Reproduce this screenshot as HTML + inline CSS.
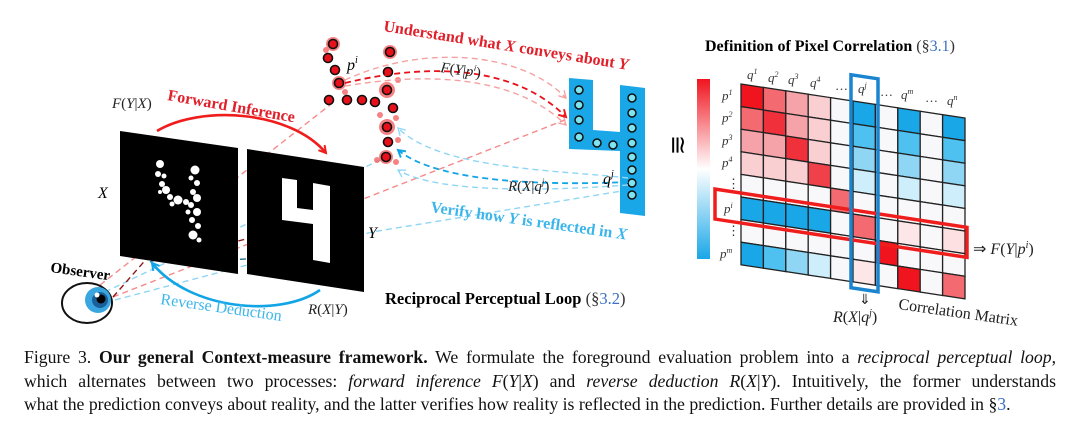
<!DOCTYPE html>
<html><head><meta charset="utf-8"><style>
html,body{margin:0;padding:0;background:#fff;}
body{width:1080px;height:428px;position:relative;overflow:hidden;}
svg{position:absolute;left:0;top:0;}
.cap{position:absolute;left:24px;top:346px;width:1032px;font-family:"Liberation Serif",serif;font-size:17.7px;line-height:23.5px;color:#111;}
.cap div{text-align:justify;text-align-last:justify;white-space:nowrap;}
.cap div.last{text-align-last:left;}
</style></head><body>
<svg width="1080" height="345" viewBox="0 0 1080 345" font-family="Liberation Serif, serif">
<defs>
<linearGradient id="cb" x1="0" y1="0" x2="0" y2="1">
<stop offset="0" stop-color="#f0141e"/><stop offset="0.5" stop-color="#ffffff"/><stop offset="1" stop-color="#1aa7e8"/></linearGradient>
<marker id="ar" markerWidth="10" markerHeight="10" refX="8" refY="5" orient="auto" markerUnits="userSpaceOnUse"><path d="M1,1 L8,5 L1,9" fill="none" stroke="#f01d1d" stroke-width="2"/></marker>
<marker id="ab" markerWidth="10" markerHeight="10" refX="8" refY="5" orient="auto" markerUnits="userSpaceOnUse"><path d="M1,1 L8,5 L1,9" fill="none" stroke="#12a5e6" stroke-width="2"/></marker>
<marker id="arp" markerWidth="10" markerHeight="10" refX="8" refY="5" orient="auto" markerUnits="userSpaceOnUse"><path d="M1,1 L8,5 L1,9" fill="none" stroke="#f5a0a0" stroke-width="1.3"/></marker>
<marker id="abp" markerWidth="10" markerHeight="10" refX="8" refY="5" orient="auto" markerUnits="userSpaceOnUse"><path d="M1,1 L8,5 L1,9" fill="none" stroke="#8fd6f5" stroke-width="1.3"/></marker>
</defs>

<g fill="none" stroke-width="1.4" stroke-dasharray="6,4">
<path d="M100,285 L330,105" stroke="#f58a8a"/>
<path d="M113,297 L570,118" stroke="#f58a8a"/>
<path d="M115,300 L372,232 L628,190" stroke="#8fd6f5"/>
<path d="M105,292 L380,160" stroke="#8fd6f5"/>
<path d="M113,297 L185,215" stroke="#8b1a1a"/>
<path d="M150,262 L188,247" stroke="#1f6f8f"/>
<path d="M180,255 L300,226" stroke="#8b1a1a"/>
<path d="M200,262 L305,255" stroke="#1f6f8f"/>
</g>
<polygon points="120,131 238,148 238,274 120,256" fill="#000"/>
<polygon points="247,149 364,167 364,292 247,274" fill="#000"/>
<g fill="#fff">
<circle cx="160" cy="164" r="4"/><circle cx="158" cy="174" r="3"/><circle cx="164" cy="176" r="2.5"/><circle cx="162" cy="184" r="3"/><circle cx="166" cy="190" r="4"/><circle cx="160" cy="192" r="2"/><circle cx="170" cy="197" r="3"/><circle cx="178" cy="200" r="4.5"/><circle cx="186" cy="202" r="3"/><circle cx="172" cy="204" r="2.5"/>
<circle cx="195" cy="170" r="4.5"/><circle cx="191" cy="178" r="2.5"/><circle cx="197" cy="183" r="3"/><circle cx="193" cy="192" r="3"/><circle cx="197" cy="198" r="4"/><circle cx="191" cy="205" r="3"/><circle cx="197" cy="212" r="4"/><circle cx="192" cy="220" r="3"/><circle cx="198" cy="226" r="3"/><circle cx="193" cy="235" r="4.5"/><circle cx="199" cy="240" r="2.5"/><circle cx="188" cy="212" r="2.5"/>
</g>
<polygon points="282,178 297,180 297,208 313,210 313,183 330,186 330,263 313,260 313,224 282,220" fill="#fff"/>
<path d="M157,131 C200,105 290,110 326,153" fill="none" stroke="#f01d1d" stroke-width="2.6" marker-end="url(#ar)"/>
<path d="M320,290 C280,318 190,310 152,263" fill="none" stroke="#12a5e6" stroke-width="2.6" marker-end="url(#ab)"/>

<g fill="#f25a5a" opacity="0.75">
<circle cx="333" cy="44" r="7"/><circle cx="390" cy="52" r="7"/><circle cx="387" cy="90" r="8"/><circle cx="387" cy="127" r="8"/><circle cx="386" cy="157" r="7"/><circle cx="339" cy="83" r="7"/><circle cx="380" cy="115" r="3"/><circle cx="396" cy="118" r="3"/><circle cx="326" cy="50" r="3"/><circle cx="398" cy="80" r="3"/><circle cx="377" cy="160" r="3"/><circle cx="396" cy="162" r="3"/><circle cx="345" cy="92" r="3"/><circle cx="398" cy="140" r="3"/>
</g>
<g fill="#e8101a" stroke="#111" stroke-width="1.6">
<circle cx="333" cy="44" r="4.5"/><circle cx="328" cy="58" r="4.5"/><circle cx="335" cy="70" r="4.5"/><circle cx="339" cy="83" r="4.5"/><circle cx="329" cy="100" r="4.5"/><circle cx="347" cy="100" r="4.5"/><circle cx="362" cy="100" r="4.5"/><circle cx="375" cy="102" r="4.5"/>
<circle cx="390" cy="52" r="4.5"/><circle cx="388" cy="72" r="4.5"/><circle cx="387" cy="90" r="4.5"/><circle cx="393" cy="108" r="4.5"/><circle cx="387" cy="127" r="4.5"/><circle cx="388" cy="142" r="4.5"/><circle cx="386" cy="157" r="4.5"/>
</g>
<polygon points="569,78 593,80 593,130 620,132 620,85 645,88 645,216 620,213 620,151 569,149" fill="#1aa7e8"/>
<g fill="#7ee4ef" stroke="#111" stroke-width="1.5">
<circle cx="579" cy="90" r="4"/><circle cx="579" cy="105" r="4"/><circle cx="579" cy="120" r="4"/><circle cx="579" cy="137" r="4"/><circle cx="597" cy="143" r="4"/><circle cx="613" cy="145" r="4"/>
<circle cx="632" cy="98" r="4"/><circle cx="632" cy="113" r="4"/><circle cx="632" cy="128" r="4"/><circle cx="632" cy="143" r="4"/><circle cx="632" cy="157" r="4"/><circle cx="632" cy="170" r="4"/><circle cx="632" cy="183" r="4"/><circle cx="632" cy="195" r="4"/>
</g>
<g fill="none" stroke-width="1.4" stroke-dasharray="6,4">
<path d="M345,80 C420,45 520,50 566,98" stroke="#f5a0a0" marker-end="url(#arp)"/>
<path d="M345,86 C440,70 520,80 566,125" stroke="#f5a0a0" marker-end="url(#arp)"/>
<path d="M345,83 C440,60 520,70 566,117" stroke="#e8101a" stroke-width="1.8" marker-end="url(#ar)"/>
<path d="M628,178 C560,170 440,170 398,128" stroke="#8fd6f5" marker-end="url(#abp)"/>
<path d="M628,185 C560,190 440,195 398,170" stroke="#8fd6f5" marker-end="url(#abp)"/>
<path d="M628,182 C560,185 440,185 398,150" stroke="#12a5e6" stroke-width="1.8" marker-end="url(#ab)"/>
</g>

<text x="383" y="31" fill="#e0202a" font-weight="bold" font-size="16" transform="rotate(9 383 31)">Understand what <tspan font-style="italic">X</tspan> conveys about <tspan font-style="italic">Y</tspan></text>
<text x="347" y="70" font-style="italic" font-size="16">p<tspan font-size="10" dy="-7">i</tspan></text>
<text x="440" y="72" font-size="15" transform="rotate(8 440 72)" fill="#222"><tspan font-style="italic">F</tspan>(<tspan font-style="italic">Y</tspan>|<tspan font-style="italic">p<tspan font-size="9" dy="-6">i</tspan></tspan><tspan dy="6">)</tspan></text>
<text x="112" y="108" font-size="15" fill="#222"><tspan font-style="italic">F</tspan>(<tspan font-style="italic">Y</tspan>|<tspan font-style="italic">X</tspan>)</text>
<text x="167" y="100" fill="#e0202a" font-weight="bold" font-size="16" transform="rotate(10 167 100)">Forward Inference</text>
<text x="98" y="198" font-style="italic" font-size="16">X</text>
<text x="368" y="238" font-style="italic" font-size="16">Y</text>
<text x="508" y="191" font-size="15" fill="#222"><tspan font-style="italic">R</tspan>(<tspan font-style="italic">X</tspan>|<tspan font-style="italic">q<tspan font-size="9" dy="-6">j</tspan></tspan><tspan dy="6">)</tspan></text>
<text x="603" y="184" font-style="italic" font-size="16">q<tspan font-size="10" dy="-7">j</tspan></text>
<text x="430" y="212" fill="#3cb6ea" font-weight="bold" font-size="16" transform="rotate(8 430 212)">Verify how <tspan font-style="italic">Y</tspan> is reflected in <tspan font-style="italic">X</tspan></text>
<text x="50" y="272" font-weight="bold" font-size="15" transform="rotate(8 50 272)">Observer</text>
<text x="160" y="304" fill="#3cb6ea" font-size="16" transform="rotate(8 160 304)">Reverse Deduction</text>
<text x="308" y="314" font-size="15" fill="#222"><tspan font-style="italic">R</tspan>(<tspan font-style="italic">X</tspan>|<tspan font-style="italic">Y</tspan>)</text>
<text x="385" y="304" font-weight="bold" font-size="16.5">Reciprocal Perceptual Loop <tspan font-weight="normal" fill="#333">(§</tspan><tspan font-weight="normal" fill="#3a6fc4">3.2</tspan><tspan font-weight="normal" fill="#333">)</tspan></text>

<ellipse cx="87" cy="303" rx="25" ry="20" fill="#fff" stroke="#111" stroke-width="2"/>
<circle cx="98" cy="300" r="13" fill="#3aa6e0"/>
<circle cx="100" cy="300" r="8" fill="#1a5f9a"/>
<circle cx="101" cy="299" r="4.5" fill="#000"/>
<circle cx="97" cy="295" r="2.5" fill="#fff"/>

<text x="670" y="145" font-size="24" transform="rotate(90 670 145)" text-anchor="middle">≅</text>

<text x="705" y="51" font-weight="bold" font-size="16">Definition of Pixel Correlation <tspan font-weight="normal" fill="#333">(§</tspan><tspan font-weight="normal" fill="#3a6fc4">3.1</tspan><tspan font-weight="normal" fill="#333">)</tspan></text>
<rect x="697" y="79" width="13" height="180" fill="url(#cb)"/>
<g transform="matrix(1,0.152,0,1,741,84)" stroke="#222" stroke-width="1.3">
<rect x="0" y="0" width="22.4" height="22.6" fill="#f0141e"/><rect x="22.4" y="0" width="22.4" height="22.6" fill="#f36a70"/><rect x="44.8" y="0" width="22.4" height="22.6" fill="#f5a3a8"/><rect x="67.2" y="0" width="22.4" height="22.6" fill="#f9cfd2"/><rect x="89.6" y="0" width="22.4" height="22.6" fill="#f8f8fa"/><rect x="112" y="0" width="22.4" height="22.6" fill="#1aa7e8"/><rect x="134.4" y="0" width="22.4" height="22.6" fill="#f8f8fa"/><rect x="156.8" y="0" width="22.4" height="22.6" fill="#1aa7e8"/><rect x="179.2" y="0" width="22.4" height="22.6" fill="#f8f8fa"/><rect x="201.6" y="0" width="22.4" height="22.6" fill="#1aa7e8"/>
<rect x="0" y="22.6" width="22.4" height="22.6" fill="#f36a70"/><rect x="22.4" y="22.6" width="22.4" height="22.6" fill="#f0303a"/><rect x="44.8" y="22.6" width="22.4" height="22.6" fill="#f5a3a8"/><rect x="67.2" y="22.6" width="22.4" height="22.6" fill="#f9cfd2"/><rect x="89.6" y="22.6" width="22.4" height="22.6" fill="#f8f8fa"/><rect x="112" y="22.6" width="22.4" height="22.6" fill="#4ec1f0"/><rect x="134.4" y="22.6" width="22.4" height="22.6" fill="#f8f8fa"/><rect x="156.8" y="22.6" width="22.4" height="22.6" fill="#4ec1f0"/><rect x="179.2" y="22.6" width="22.4" height="22.6" fill="#f8f8fa"/><rect x="201.6" y="22.6" width="22.4" height="22.6" fill="#4ec1f0"/>
<rect x="0" y="45.2" width="22.4" height="22.6" fill="#f5a3a8"/><rect x="22.4" y="45.2" width="22.4" height="22.6" fill="#f5a3a8"/><rect x="44.8" y="45.2" width="22.4" height="22.6" fill="#f0303a"/><rect x="67.2" y="45.2" width="22.4" height="22.6" fill="#f9cfd2"/><rect x="89.6" y="45.2" width="22.4" height="22.6" fill="#f8f8fa"/><rect x="112" y="45.2" width="22.4" height="22.6" fill="#8fd6f5"/><rect x="134.4" y="45.2" width="22.4" height="22.6" fill="#f8f8fa"/><rect x="156.8" y="45.2" width="22.4" height="22.6" fill="#8fd6f5"/><rect x="179.2" y="45.2" width="22.4" height="22.6" fill="#f8f8fa"/><rect x="201.6" y="45.2" width="22.4" height="22.6" fill="#8fd6f5"/>
<rect x="0" y="67.8" width="22.4" height="22.6" fill="#f9cfd2"/><rect x="22.4" y="67.8" width="22.4" height="22.6" fill="#f9cfd2"/><rect x="44.8" y="67.8" width="22.4" height="22.6" fill="#f9cfd2"/><rect x="67.2" y="67.8" width="22.4" height="22.6" fill="#f0404a"/><rect x="89.6" y="67.8" width="22.4" height="22.6" fill="#f8f8fa"/><rect x="112" y="67.8" width="22.4" height="22.6" fill="#cdeefa"/><rect x="134.4" y="67.8" width="22.4" height="22.6" fill="#f8f8fa"/><rect x="156.8" y="67.8" width="22.4" height="22.6" fill="#cdeefa"/><rect x="179.2" y="67.8" width="22.4" height="22.6" fill="#f8f8fa"/><rect x="201.6" y="67.8" width="22.4" height="22.6" fill="#cdeefa"/>
<rect x="0" y="90.4" width="22.4" height="22.6" fill="#f8f8fa"/><rect x="22.4" y="90.4" width="22.4" height="22.6" fill="#f8f8fa"/><rect x="44.8" y="90.4" width="22.4" height="22.6" fill="#f8f8fa"/><rect x="67.2" y="90.4" width="22.4" height="22.6" fill="#f8f8fa"/><rect x="89.6" y="90.4" width="22.4" height="22.6" fill="#f36a70"/><rect x="112" y="90.4" width="22.4" height="22.6" fill="#f8f8fa"/><rect x="134.4" y="90.4" width="22.4" height="22.6" fill="#f8f8fa"/><rect x="156.8" y="90.4" width="22.4" height="22.6" fill="#f8f8fa"/><rect x="179.2" y="90.4" width="22.4" height="22.6" fill="#f8f8fa"/><rect x="201.6" y="90.4" width="22.4" height="22.6" fill="#f8f8fa"/>
<rect x="0" y="113" width="22.4" height="22.6" fill="#1aa7e8"/><rect x="22.4" y="113" width="22.4" height="22.6" fill="#1aa7e8"/><rect x="44.8" y="113" width="22.4" height="22.6" fill="#1aa7e8"/><rect x="67.2" y="113" width="22.4" height="22.6" fill="#1aa7e8"/><rect x="89.6" y="113" width="22.4" height="22.6" fill="#f8f8fa"/><rect x="112" y="113" width="22.4" height="22.6" fill="#f36a70"/><rect x="134.4" y="113" width="22.4" height="22.6" fill="#f8f8fa"/><rect x="156.8" y="113" width="22.4" height="22.6" fill="#fde6e8"/><rect x="179.2" y="113" width="22.4" height="22.6" fill="#f8f8fa"/><rect x="201.6" y="113" width="22.4" height="22.6" fill="#fde0e2"/>
<rect x="0" y="135.6" width="22.4" height="22.6" fill="#f8f8fa"/><rect x="22.4" y="135.6" width="22.4" height="22.6" fill="#f8f8fa"/><rect x="44.8" y="135.6" width="22.4" height="22.6" fill="#f8f8fa"/><rect x="67.2" y="135.6" width="22.4" height="22.6" fill="#f8f8fa"/><rect x="89.6" y="135.6" width="22.4" height="22.6" fill="#f8f8fa"/><rect x="112" y="135.6" width="22.4" height="22.6" fill="#f8f8fa"/><rect x="134.4" y="135.6" width="22.4" height="22.6" fill="#f0141e"/><rect x="156.8" y="135.6" width="22.4" height="22.6" fill="#f8f8fa"/><rect x="179.2" y="135.6" width="22.4" height="22.6" fill="#f8f8fa"/><rect x="201.6" y="135.6" width="22.4" height="22.6" fill="#f8f8fa"/>
<rect x="0" y="158.2" width="22.4" height="22.6" fill="#1aa7e8"/><rect x="22.4" y="158.2" width="22.4" height="22.6" fill="#4ec1f0"/><rect x="44.8" y="158.2" width="22.4" height="22.6" fill="#8fd6f5"/><rect x="67.2" y="158.2" width="22.4" height="22.6" fill="#cdeefa"/><rect x="89.6" y="158.2" width="22.4" height="22.6" fill="#f8f8fa"/><rect x="112" y="158.2" width="22.4" height="22.6" fill="#fde6e8"/><rect x="134.4" y="158.2" width="22.4" height="22.6" fill="#f8f8fa"/><rect x="156.8" y="158.2" width="22.4" height="22.6" fill="#f0141e"/><rect x="179.2" y="158.2" width="22.4" height="22.6" fill="#f8f8fa"/><rect x="201.6" y="158.2" width="22.4" height="22.6" fill="#f36a70"/>
<rect x="-26" y="109" width="252" height="30" fill="none" stroke="#f01d1d" stroke-width="3.5"/>
<rect x="110" y="-26" width="27" height="213" fill="none" stroke="#1a84cf" stroke-width="3.5"/>
</g>
<g font-style="italic" font-size="13" fill="#333">
<text x="747" y="79">q<tspan font-size="8" dy="-5">1</tspan></text><text x="768" y="82">q<tspan font-size="8" dy="-5">2</tspan></text><text x="788" y="84">q<tspan font-size="8" dy="-5">3</tspan></text><text x="810" y="87">q<tspan font-size="8" dy="-5">4</tspan></text>
<text x="835" y="90" font-style="normal">…</text><text x="858" y="93">q<tspan font-size="8" dy="-5">j</tspan></text><text x="880" y="96" font-style="normal">…</text>
<text x="901" y="99">q<tspan font-size="8" dy="-5">m</tspan></text><text x="925" y="102" font-style="normal">…</text><text x="947" y="105">q<tspan font-size="8" dy="-5">n</tspan></text>
<text x="722" y="100">p<tspan font-size="8" dy="-5">1</tspan></text><text x="722" y="122">p<tspan font-size="8" dy="-5">2</tspan></text><text x="722" y="145">p<tspan font-size="8" dy="-5">3</tspan></text><text x="722" y="167">p<tspan font-size="8" dy="-5">4</tspan></text>
<text x="727" y="188" font-style="normal">⋮</text><text x="724" y="213">p<tspan font-size="8" dy="-5">i</tspan></text><text x="727" y="235" font-style="normal">⋮</text><text x="720" y="258">p<tspan font-size="8" dy="-5">m</tspan></text>
</g>
<text x="973" y="254" font-size="16" fill="#222">⇒ <tspan font-style="italic">F</tspan>(<tspan font-style="italic">Y</tspan>|<tspan font-style="italic">p<tspan font-size="10" dy="-6">i</tspan></tspan><tspan dy="6">)</tspan></text>
<text x="859" y="304" font-size="14" fill="#222">⇓</text>
<text x="833" y="322" font-size="16" fill="#222"><tspan font-style="italic">R</tspan>(<tspan font-style="italic">X</tspan>|<tspan font-style="italic">q<tspan font-size="10" dy="-6">j</tspan></tspan><tspan dy="6">)</tspan></text>
<text x="898" y="309" font-size="16" fill="#222" transform="rotate(8 898 309)">Correlation Matrix</text>
</svg>
<div class="cap">
<div>Figure 3. <b>Our general Context-measure framework.</b> We formulate the foreground evaluation problem into a <i>reciprocal perceptual loop</i>,</div>
<div>which alternates between two processes: <i>forward inference F</i>(<i>Y</i>|<i>X</i>) and <i>reverse deduction R</i>(<i>X</i>|<i>Y</i>). Intuitively, the former understands</div>
<div class="last">what the prediction conveys about reality, and the latter verifies how reality is reflected in the prediction. Further details are provided in §<span style="color:#3a6fc4">3</span>.</div>
</div>
</body></html>
